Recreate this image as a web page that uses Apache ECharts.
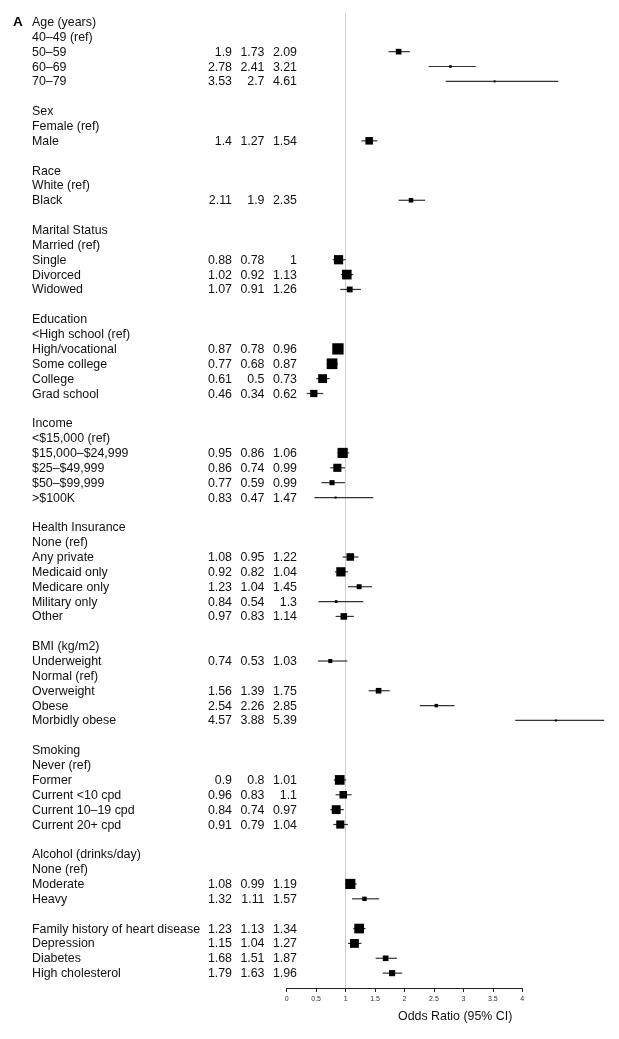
<!DOCTYPE html>
<html lang="en">
<head>
<meta charset="UTF-8">
<title>Forest plot</title>
<script src="https://cdn.jsdelivr.net/npm/echarts@6/dist/echarts.min.js"></script>
<style>
    html, body { margin: 0; padding: 0; background: #fff; }
    #main { width: 619px; height: 1039px; }
</style>
</head>
<body>
<div id="main"></div>
<script>
// row layout of the table, '' is a spacer row
var rowLabels = [
    'Age (years)', '40–49 (ref)', '50–59', '60–69', '70–79', '',
    'Sex', 'Female (ref)', 'Male', '',
    'Race', 'White (ref)', 'Black', '',
    'Marital Status', 'Married (ref)', 'Single', 'Divorced', 'Widowed', '',
    'Education', '<High school (ref)', 'High/vocational', 'Some college', 'College', 'Grad school', '',
    'Income', '<$15,000 (ref)', '$15,000–$24,999', '$25–$49,999', '$50–$99,999', '>$100K', '',
    'Health Insurance', 'None (ref)', 'Any private', 'Medicaid only', 'Medicare only', 'Military only', 'Other', '',
    'BMI (kg/m2)', 'Underweight', 'Normal (ref)', 'Overweight', 'Obese', 'Morbidly obese', '',
    'Smoking', 'Never (ref)', 'Former', 'Current <10 cpd', 'Current 10–19 cpd', 'Current 20+ cpd', '',
    'Alcohol (drinks/day)', 'None (ref)', 'Moderate', 'Heavy', '',
    'Family history of heart disease', 'Depression', 'Diabetes', 'High cholesterol'
];

// rows that have an estimate
var estLabels = [
    '50–59', '60–69', '70–79', 'Male', 'Black',
    'Single', 'Divorced', 'Widowed',
    'High/vocational', 'Some college', 'College', 'Grad school',
    '$15,000–$24,999', '$25–$49,999', '$50–$99,999', '>$100K',
    'Any private', 'Medicaid only', 'Medicare only', 'Military only', 'Other',
    'Underweight', 'Overweight', 'Obese', 'Morbidly obese',
    'Former', 'Current <10 cpd', 'Current 10–19 cpd', 'Current 20+ cpd',
    'Moderate', 'Heavy',
    'Family history of heart disease', 'Depression', 'Diabetes', 'High cholesterol'
];
var oddsRatio = [1.9, 2.78, 3.53, 1.4, 2.11, 0.88, 1.02, 1.07, 0.87, 0.77, 0.61, 0.46,
    0.95, 0.86, 0.77, 0.83, 1.08, 0.92, 1.23, 0.84, 0.97, 0.74, 1.56, 2.54, 4.57,
    0.9, 0.96, 0.84, 0.91, 1.08, 1.32, 1.23, 1.15, 1.68, 1.79];
var lowerCI = [1.73, 2.41, 2.7, 1.27, 1.9, 0.78, 0.92, 0.91, 0.78, 0.68, 0.5, 0.34,
    0.86, 0.74, 0.59, 0.47, 0.95, 0.82, 1.04, 0.54, 0.83, 0.53, 1.39, 2.26, 3.88,
    0.8, 0.83, 0.74, 0.79, 0.99, 1.11, 1.13, 1.04, 1.51, 1.63];
var upperCI = [2.09, 3.21, 4.61, 1.54, 2.35, 1, 1.13, 1.26, 0.96, 0.87, 0.73, 0.62,
    1.06, 0.99, 0.99, 1.47, 1.22, 1.04, 1.45, 1.3, 1.14, 1.03, 1.75, 2.85, 5.39,
    1.01, 1.1, 0.97, 1.04, 1.19, 1.57, 1.34, 1.27, 1.87, 1.96];

var xMin = 0, xMax = 4, xStep = 0.5;
var refLine = 1;

// box side scales with 1/(upper-lower), like rmeta forestplot
var minWidth = Infinity;
for (var k = 0; k < estLabels.length; k++) {
    minWidth = Math.min(minWidth, upperCI[k] - lowerCI[k]);
}

var markData = [];
for (var i = 0; i < estLabels.length; i++) {
    markData.push([oddsRatio[i], lowerCI[i], upperCI[i], rowLabels.indexOf(estLabels[i])]);
}
var textData = rowLabels.map(function (l, i) { return [0, i]; });

var txtFont = '12.4px "Liberation Sans", Arial, sans-serif';
var colRight = [232, 264.5, 297];

var myChart = echarts.init(document.getElementById('main'));
var option = {
    animation: false,
    backgroundColor: '#fff',
    grid: { left: 286.7, right: 96.7, top: 13, bottom: 51 },
    xAxis: {
        type: 'value',
        min: xMin, max: xMax, interval: xStep,
        splitLine: { show: false },
        axisLine: { show: true, onZero: false, lineStyle: { color: '#222', width: 1 } },
        axisTick: { show: true, length: 4, lineStyle: { color: '#222', width: 1 } },
        axisLabel: { fontSize: 7, color: '#333', margin: 8, fontFamily: 'Liberation Sans' }
    },
    yAxis: {
        type: 'value', inverse: true, min: -0.6, max: 65, show: false
    },
    graphic: [
        { type: 'text', left: 13, top: 15,
          style: { text: 'A', font: 'bold 13.5px "Liberation Sans", Arial, sans-serif', fill: '#000' } },
        { type: 'text', left: 398, top: 1011,
          style: { text: 'Odds Ratio (95% CI)', font: txtFont, fill: '#111' } }
    ],
    series: [
        {
            // reference line at OR = 1, behind the marks
            type: 'line',
            data: [],
            z: 1,
            silent: true,
            markLine: {
                silent: true,
                symbol: 'none',
                label: { show: false },
                lineStyle: { color: '#cfcfcf', width: 1, type: 'solid' },
                data: [{ xAxis: refLine }]
            }
        },
        {
            // table text
            type: 'custom',
            clip: false,
            silent: true,
            data: textData,
            renderItem: function (params, api) {
                var r = api.value(1);
                var y = api.coord([0, r])[1] + 0.6;
                var kids = [{
                    type: 'text',
                    style: { text: rowLabels[r], x: 32, y: y, font: txtFont, fill: '#111',
                             textAlign: 'left', textVerticalAlign: 'middle' }
                }];
                var e = estLabels.indexOf(rowLabels[r]);
                if (rowLabels[r] && e >= 0) {
                    var vals = [oddsRatio[e], lowerCI[e], upperCI[e]];
                    for (var c = 0; c < 3; c++) {
                        kids.push({
                            type: 'text',
                            style: { text: String(vals[c]), x: colRight[c], y: y, font: txtFont, fill: '#111',
                                     textAlign: 'right', textVerticalAlign: 'middle' }
                        });
                    }
                }
                return { type: 'group', children: kids };
            }
        },
        {
            // CI lines and boxes
            type: 'custom',
            clip: false,
            silent: true,
            data: markData,
            z: 5,
            renderItem: function (params, api) {
                var or = api.value(0), lo = api.value(1), hi = api.value(2), r = api.value(3);
                var p = api.coord([or, r]);
                var a = api.coord([lo, r]);
                var b = api.coord([hi, r]);
                var side = Math.max(2, 11.3 * minWidth / (hi - lo));
                return {
                    type: 'group',
                    children: [
                        { type: 'line', shape: { x1: a[0], y1: a[1], x2: b[0], y2: b[1] },
                          style: { stroke: '#333', lineWidth: 1.2 } },
                        { type: 'rect', shape: { x: p[0] - side / 2, y: p[1] - side / 2, width: side, height: side },
                          style: { fill: '#000' } }
                    ]
                };
            }
        }
    ]
};
myChart.setOption(option);
</script>
</body>
</html>
